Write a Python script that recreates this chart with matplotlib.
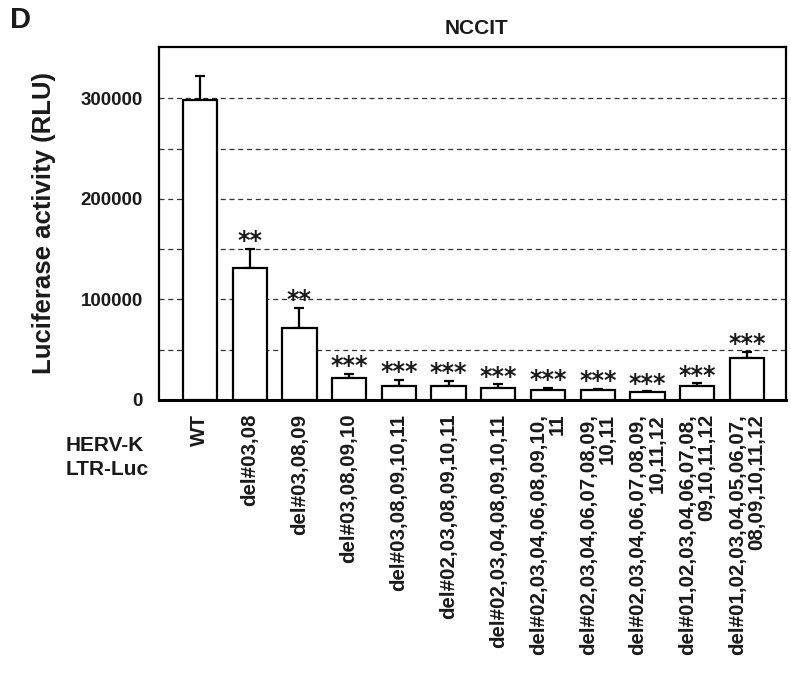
import matplotlib
matplotlib.use("Agg")
import matplotlib.pyplot as plt
from matplotlib.ticker import FixedLocator

plt.rcParams['font.family'] = ['Liberation Sans', 'DejaVu Sans']
plt.rcParams['font.weight'] = 'bold'

categories = [
    "WT",
    "del#03,08",
    "del#03,08,09",
    "del#03,08,09,10",
    "del#03,08,09,10,11",
    "del#02,03,08,09,10,11",
    "del#02,03,04,08,09,10,11",
    "del#02,03,04,06,08,09,10,\n11",
    "del#02,03,04,06,07,08,09,\n10,11",
    "del#02,03,04,06,07,08,09,\n10,11,12",
    "del#01,02,03,04,06,07,08,\n09,10,11,12",
    "del#01,02,03,04,05,06,07,\n08,09,10,11,12",
]
values = [298500, 131600, 72000, 21600, 14200, 13600, 12300, 10300, 9600, 7600, 14200, 42100]
errors = [24000, 18500, 19500, 4600, 6000, 5300, 3300, 2000, 1700, 1000, 2400, 5700]
stars = ["", "**", "**", "***", "***", "***", "***", "***", "***", "***", "***", "***"]
yticks = [0, 100000, 200000, 300000]
minor_grid = [50000, 150000, 250000]

TXT = '#1a1a1a'
fig = plt.figure(figsize=(7.91, 6.77), dpi=100)
ax = fig.add_axes([0.2006, 0.4092, 0.7927, 0.5214])

x = list(range(len(categories)))
ax.set_axisbelow(True)
ax.yaxis.set_minor_locator(FixedLocator(minor_grid))
ax.grid(axis='y', which='both', linestyle=(0, (4, 3)), color='#333333', linewidth=0.9)
ax.bar(x, values, width=0.69, color='white', edgecolor='black', linewidth=1.6, zorder=3)
ax.errorbar(x, values, yerr=[[0]*len(values), errors], fmt='none', ecolor='black',
            elinewidth=1.6, capsize=3.6, capthick=1.6, zorder=2)

for xi, v, e, s in zip(x, values, errors, stars):
    if s:
        ax.annotate(s, (xi, v + e), xytext=(0, 0.5), textcoords='offset points',
                    ha='center', va='baseline', fontsize=17, fontweight='bold',
                    family='DejaVu Sans', color=TXT, zorder=4)

ax.set_xlim(-0.83, 11.78)
ax.set_ylim(0, 351000)
ax.set_yticks(yticks)
ax.set_yticklabels([str(t) for t in yticks], fontsize=13.5, fontweight='bold', color=TXT)
ax.set_xticks(x)
ax.set_xticklabels(categories, rotation=90, fontsize=14.8, fontweight='bold', color=TXT,
                   multialignment='right', linespacing=1.0)
ax.tick_params(axis='both', which='both', length=0)
ax.tick_params(axis='y', pad=11.5)
ax.tick_params(axis='x', pad=10)

for sp in ax.spines.values():
    sp.set_linewidth(1.6)
    sp.set_color('black')
ax.spines['bottom'].set_linewidth(2.2)

ax.set_ylabel("Luciferase activity (RLU)", fontsize=18.5, fontweight='bold', color=TXT)
ax.yaxis.set_label_coords(-0.164, 0.5)

fig.text(0.602, 0.9498, "NCCIT", ha='center', va='baseline', fontsize=15, fontweight='bold', color=TXT)
fig.text(0.013, 0.9586, "D", ha='left', va='baseline', fontsize=21, fontweight='bold', color=TXT)
fig.text(0.083, 0.3338, "HERV-K", ha='left', va='baseline', fontsize=15, fontweight='bold', color=TXT)
fig.text(0.083, 0.2984, "LTR-Luc", ha='left', va='baseline', fontsize=15, fontweight='bold', color=TXT)

fig.savefig("out.png", dpi=100, facecolor='white')
